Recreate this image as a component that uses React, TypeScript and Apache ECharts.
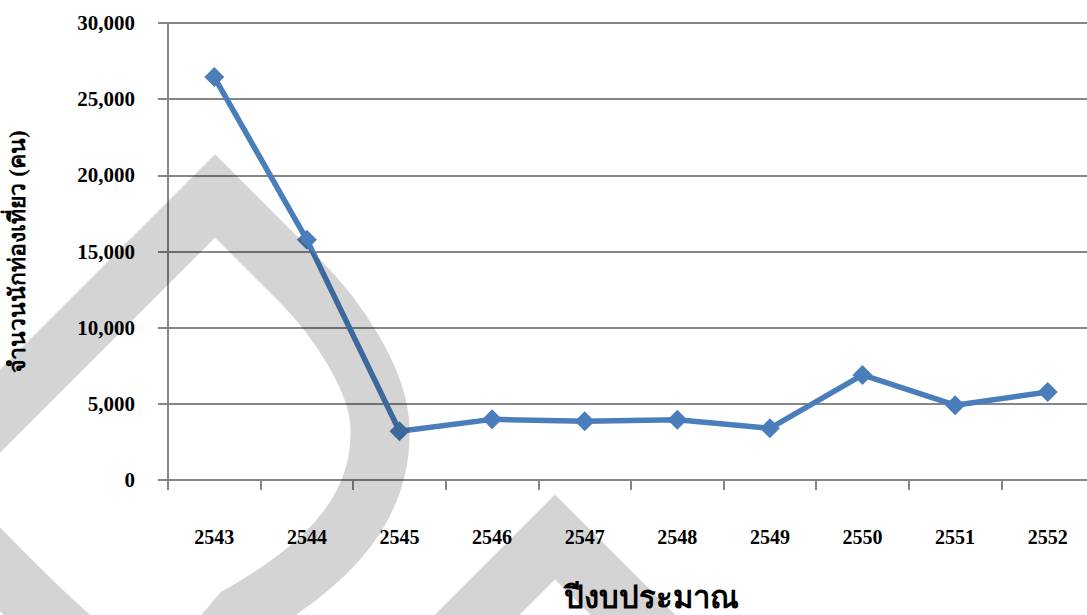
import React, { useEffect, useRef } from "react";
import * as echarts from "echarts";

const years = ["2543", "2544", "2545", "2546", "2547", "2548", "2549", "2550", "2551", "2552"];
const tourists = [26450, 15770, 3200, 3980, 3850, 3960, 3390, 6900, 4910, 5780];
const yTicks = [0, 5000, 10000, 15000, 20000, 25000, 30000];
const yAxisTitle = "จำนวนนักท่องเที่ยว (คน)";
const xAxisTitle = "ปีงบประมาณ";

const dropPath =
  "M 300 281 C 335 316 380 380 380 430 C 382 520 310 575 240 615 C 205 655 190 685 150 685 C 110 685 10 580 -21 548 C -50 519 -60 471 -20 431 L 215 196 Z";
const chevronPath = "M 440 652 L 555 537 L 670 652";

let registered = false;
function registerShapes() {
  if (registered) return;
  echarts.graphic.registerShape("wmDrop", echarts.graphic.extendPath(dropPath, {}));
  echarts.graphic.registerShape("wmChevron", echarts.graphic.extendPath(chevronPath, {}));
  registered = true;
}

const serif = "'Liberation Serif', 'Times New Roman', serif";
const gray = "#868686";

export default function App() {
  const ref = useRef<HTMLDivElement>(null);
  useEffect(() => {
    if (!ref.current) return;
    registerShapes();
    const chart = echarts.init(ref.current, null, { renderer: "svg" });
    const wmStyle = {
      fill: "none",
      stroke: "rgba(0,0,0,0.17)",
      lineJoin: "miter",
      miterLimit: 10,
    };
    chart.setOption({
      animation: false,
      backgroundColor: "#ffffff",
      grid: { left: 168, top: 23, right: -7, bottom: 135, containLabel: false, outerBoundsMode: "none" },
      xAxis: {
        type: "category",
        data: years,
        boundaryGap: true,
        axisLine: { show: true, lineStyle: { color: gray, width: 2 } },
        axisTick: { show: true, length: 10, interval: 0, alignWithLabel: false, lineStyle: { color: gray, width: 2 } },
        axisLabel: {
          margin: 47,
          fontFamily: serif,
          fontWeight: "bold",
          fontSize: 20,
          color: "#000",
        },
        splitLine: { show: false },
      },
      yAxis: {
        type: "value",
        min: yTicks[0],
        max: yTicks[yTicks.length - 1],
        interval: 5000,
        name: yAxisTitle,
        nameLocation: "middle",
        nameGap: 139,
        nameRotate: 90,
        nameTextStyle: {
          fontFamily: serif,
          fontWeight: "bold",
          fontSize: 23,
          color: "#000",
        },
        axisLine: { show: true, lineStyle: { color: gray, width: 2 } },
        axisTick: { show: true, length: 10, lineStyle: { color: gray, width: 2 } },
        axisLabel: {
          margin: 33,
          fontFamily: serif,
          fontWeight: "bold",
          fontSize: 21,
          color: "#000",
          formatter: (v: number) => v.toLocaleString("en-US"),
        },
        splitLine: { show: true, lineStyle: { color: gray, width: 2 } },
      },
      series: [
        {
          type: "line",
          data: tourists,
          symbol: "diamond",
          symbolSize: 20,
          itemStyle: { color: "#4A7EBB" },
          lineStyle: { color: "#4A7EBB", width: 5.5 },
          z: 5,
        },
      ],
      graphic: [
        {
          type: "text",
          left: 564,
          top: 582,
          z: 50,
          style: {
            text: xAxisTitle,
            fontFamily: serif,
            fontWeight: "bold",
            fontSize: 31,
            fill: "#000",
          },
        },
        { type: "wmDrop", x: 0, y: 0, z: 100, silent: true, style: { ...wmStyle, lineWidth: 59 } },
        { type: "wmChevron", x: 0, y: 0, z: 100, silent: true, style: { ...wmStyle, lineWidth: 60 } },
      ],
    });
    return () => chart.dispose();
  }, []);
  return (
    <div
      ref={ref}
      style={{ position: "fixed", left: 0, top: 0, width: 1087, height: 615, background: "#fff" }}
    />
  );
}
